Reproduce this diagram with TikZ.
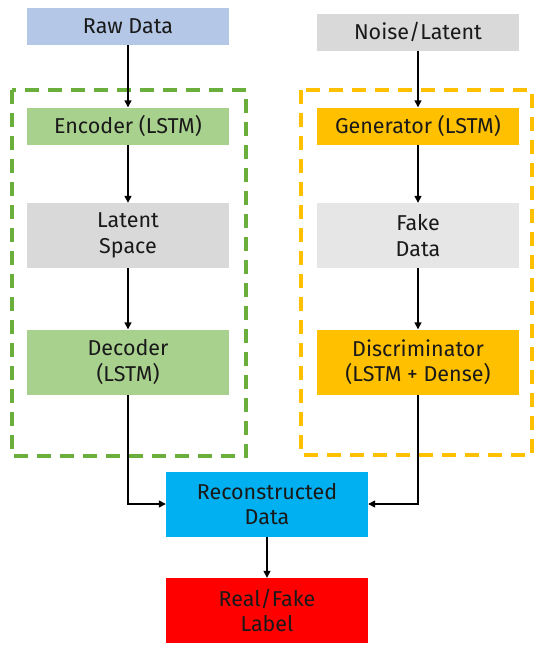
\documentclass[tikz,border=0pt]{standalone}
\usepackage{fontspec}
\setmainfont{Fira Sans}
\usetikzlibrary{arrows.meta}
\definecolor{cblue}{HTML}{B4C7E7}
\definecolor{cgreen}{HTML}{A9D18E}
\definecolor{cgray}{HTML}{D9D9D9}
\definecolor{clgray}{HTML}{E7E6E6}
\definecolor{corange}{HTML}{FFC000}
\definecolor{ccyan}{HTML}{00B0F0}
\definecolor{cred}{HTML}{FF0000}
\definecolor{dgreen}{HTML}{6AAE3C}
\tikzset{
  box/.style={minimum width=202pt, inner sep=0pt, align=center, font=\fontsize{21.5}{25.5}\selectfont, text=black!90},
  short/.style={box, minimum height=37pt},
  tall/.style={box, minimum height=65pt},
  arr/.style={-{Triangle[length=7pt,width=7pt]}, line width=1.4pt},
  group/.style={dash pattern=on 14pt off 9pt, line width=3.3pt}
}
\begin{document}
\begin{tikzpicture}[x=1pt,y=-1pt]
\useasboundingbox (0,0) rectangle (550,649);
\draw[group, dgreen] (12,90) rectangle (246,456);
\draw[group, corange] (301,90) rectangle (532,455);
\node[short, fill=cblue] (raw) at (128,26.5) {Raw Data};
\node[short, fill=cgreen] (enc) at (128,126) {Encoder (LSTM)};
\node[tall, fill=cgray] (lat) at (128,235.5) {Latent\\Space};
\node[tall, fill=cgreen] (dec) at (128,362) {Decoder\\(LSTM)};
\node[short, fill=cgray] (noise) at (418,32) {Noise/Latent};
\node[short, fill=corange] (gen) at (418,126) {Generator (LSTM)};
\node[tall, fill=clgray] (fake) at (418,235.5) {Fake\\Data};
\node[tall, fill=corange] (disc) at (418,362) {Discriminator\\(LSTM + Dense)};
\node[tall, fill=ccyan] (rec) at (267,504) {Reconstructed\\Data};
\node[tall, fill=cred] (lab) at (267,610.5) {Real/Fake\\Label};
\draw[arr] (raw) -- (enc);
\draw[arr] (enc) -- (lat);
\draw[arr] (lat) -- (dec);
\draw[arr] (noise) -- (gen);
\draw[arr] (gen) -- (fake);
\draw[arr] (fake) -- (disc);
\draw[arr] (dec.south) |- (rec.west);
\draw[arr] (disc.south) |- (rec.east);
\draw[arr] (rec) -- (lab);
\end{tikzpicture}
\end{document}
